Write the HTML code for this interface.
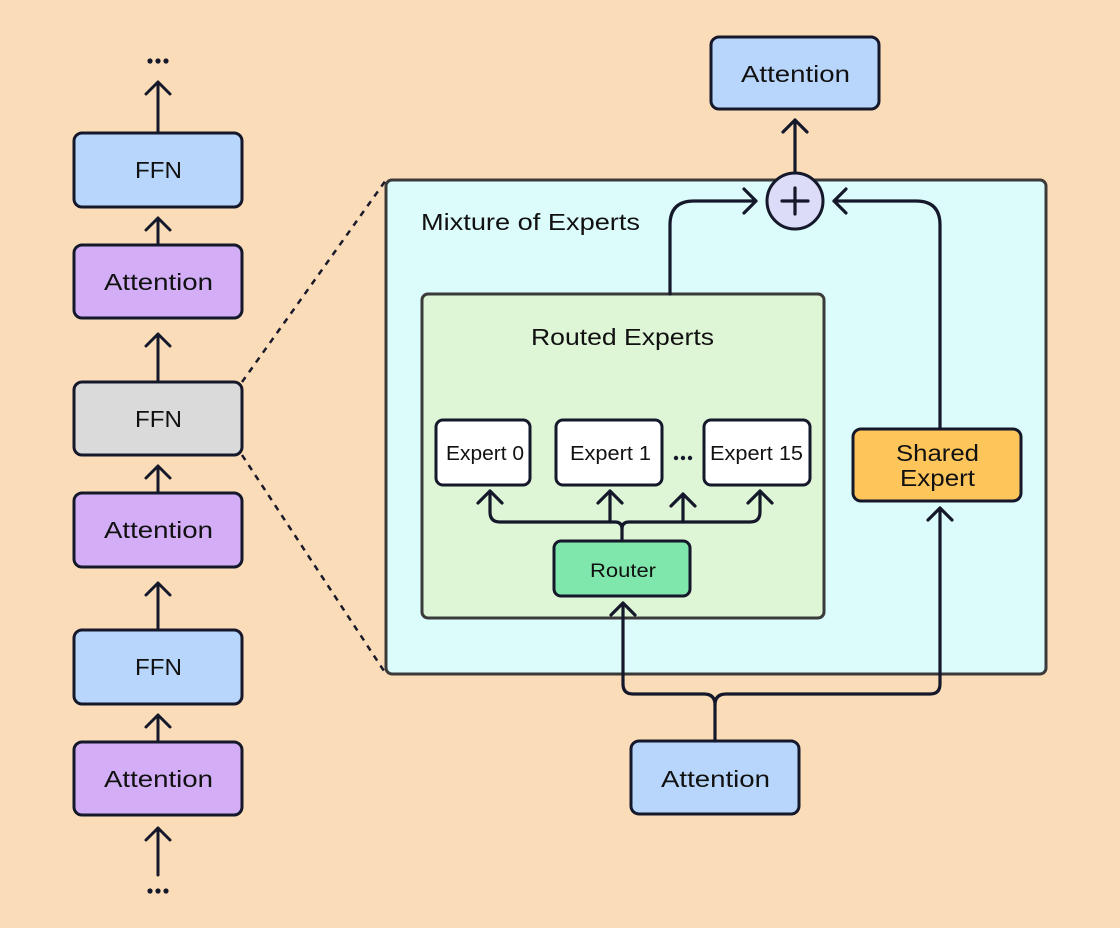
<!DOCTYPE html>
<html><head><meta charset="utf-8"><style>
html,body{margin:0;padding:0;background:#fadcb9;}
svg{display:block}
text{font-family:"Liberation Sans",sans-serif;fill:#111;}
</style></head><body>
<svg width="1120" height="928" viewBox="0 0 1120 928" xmlns="http://www.w3.org/2000/svg">
<rect width="1120" height="928" fill="#fadcb9"/>
<g stroke="#1a1a2a" stroke-width="2.5" stroke-dasharray="6,6" fill="none">
<line x1="242" y1="382" x2="386" y2="180"/>
<line x1="242" y1="455" x2="386" y2="674"/>
</g>
<rect x="386" y="180" width="660" height="494" rx="6" fill="#dcfbfb" stroke="#3a3a3a" stroke-width="3"/>
<text x="421" y="230" font-size="23" textLength="219" lengthAdjust="spacingAndGlyphs">Mixture of Experts</text>
<rect x="422" y="294" width="402" height="324" rx="6" fill="#def5d6" stroke="#3a3a3a" stroke-width="3"/>
<text x="531" y="345" font-size="23" textLength="183" lengthAdjust="spacingAndGlyphs">Routed Experts</text>

<g stroke="#14182a" stroke-width="3">
<rect x="74" y="133" width="168" height="74" rx="8" fill="#b8d6fb"/>
<rect x="74" y="245" width="168" height="73" rx="8" fill="#d3aef7"/>
<rect x="74" y="382" width="168" height="73" rx="8" fill="#dadada"/>
<rect x="74" y="493" width="168" height="74" rx="8" fill="#d3aef7"/>
<rect x="74" y="630" width="168" height="74" rx="8" fill="#b8d6fb"/>
<rect x="74" y="742" width="168" height="73" rx="8" fill="#d3aef7"/>
</g>
<g font-size="23">
<text x="135" y="178" textLength="47" lengthAdjust="spacingAndGlyphs">FFN</text>
<text x="104" y="290" textLength="109" lengthAdjust="spacingAndGlyphs">Attention</text>
<text x="135" y="427" textLength="47" lengthAdjust="spacingAndGlyphs">FFN</text>
<text x="104" y="538" textLength="109" lengthAdjust="spacingAndGlyphs">Attention</text>
<text x="135" y="675" textLength="47" lengthAdjust="spacingAndGlyphs">FFN</text>
<text x="104" y="787" textLength="109" lengthAdjust="spacingAndGlyphs">Attention</text>
</g>
<g fill="#14182a">
<circle cx="150" cy="61" r="2.6"/><circle cx="158" cy="61" r="2.6"/><circle cx="166" cy="61" r="2.6"/>
<circle cx="150" cy="891" r="2.6"/><circle cx="158" cy="891" r="2.6"/><circle cx="166" cy="891" r="2.6"/>
<circle cx="676" cy="458" r="2.2"/><circle cx="683" cy="458" r="2.2"/><circle cx="690" cy="458" r="2.2"/>
</g>
<g fill="none" stroke="#14182a" stroke-width="3" stroke-linecap="round" stroke-linejoin="round">
<path d="M158 133V82M146 94l12-12 12 12"/>
<path d="M158 245V218M146 230l12-12 12 12"/>
<path d="M158 382V334M146 346l12-12 12 12"/>
<path d="M158 493V466M146 478l12-12 12 12"/>
<path d="M158 630V583M146 595l12-12 12 12"/>
<path d="M158 742V715M146 727l12-12 12 12"/>
<path d="M158 875V828M146 840l12-12 12 12"/>
</g>

<g stroke="#14182a" stroke-width="3">
<rect x="711" y="37" width="168" height="72" rx="8" fill="#b8d6fb"/>
<rect x="631" y="741" width="168" height="73" rx="8" fill="#b8d6fb"/>
<rect x="436" y="420" width="94" height="65" rx="7" fill="#fff"/>
<rect x="556" y="420" width="106" height="65" rx="7" fill="#fff"/>
<rect x="704" y="420" width="106" height="65" rx="7" fill="#fff"/>
<rect x="554" y="541" width="136" height="55" rx="7" fill="#7fe6ac"/>
<rect x="853" y="429" width="168" height="72" rx="8" fill="#fdc55a"/>
<circle cx="795" cy="201" r="28" fill="#dcdcf8"/>
</g>
<g>
<text x="741" y="82" font-size="23" textLength="109" lengthAdjust="spacingAndGlyphs">Attention</text>
<text x="661" y="787" font-size="23" textLength="109" lengthAdjust="spacingAndGlyphs">Attention</text>
<text x="446" y="460" font-size="20" textLength="78" lengthAdjust="spacingAndGlyphs">Expert 0</text>
<text x="570" y="460" font-size="20" textLength="81" lengthAdjust="spacingAndGlyphs">Expert 1</text>
<text x="710" y="460" font-size="20" textLength="93" lengthAdjust="spacingAndGlyphs">Expert 15</text>
<text x="590" y="577" font-size="19" textLength="66" lengthAdjust="spacingAndGlyphs">Router</text>
<text x="896" y="461" font-size="23" textLength="83" lengthAdjust="spacingAndGlyphs">Shared</text>
<text x="900" y="486" font-size="23" textLength="75" lengthAdjust="spacingAndGlyphs">Expert</text>
</g>
<g fill="none" stroke="#14182a" stroke-width="3.2" stroke-linecap="round" stroke-linejoin="round">
<path d="M782 201h26M795 188v26"/>
<path d="M795 173V120M783 132l12-12 12 12"/>
<path d="M670 294V225q0-24 24-24h62M744 189l12 12-12 12"/>
<path d="M940 429V225q0-24-24-24h-82M846 189l-12 12 12 12"/>
<path d="M715 741V705q0-11 11-11h204q10 0 10-10V508M928 520l12-12 12 12"/>
<path d="M715 705q0-11-11-11h-71q-10 0-10-10V603M611 615l12-12 12 12"/>
<path d="M622 541V529q0-7 7-7h121q10 0 10-10V491M748 503l12-12 12 12"/>
<path d="M622 529q0-7-7-7H500q-10 0-10-10V491M478 503l12-12 12 12"/>
<path d="M610 522V491M598 503l12-12 12 12"/>
<path d="M683 522V494M671 506l12-12 12 12"/>
</g>
</svg>
</body></html>
